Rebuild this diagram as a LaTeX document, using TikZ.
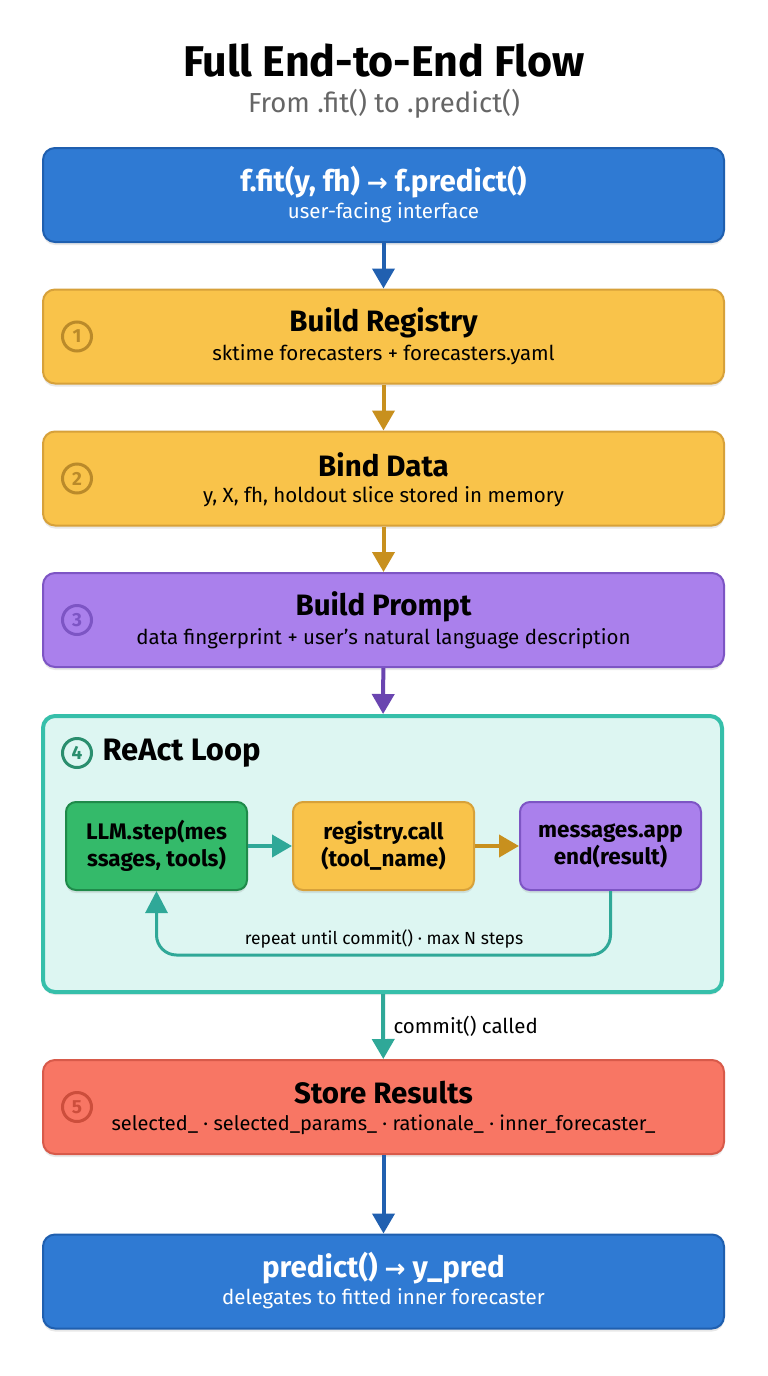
\documentclass[tikz,border=0pt]{standalone}
\usepackage{fontspec}
\setmainfont{Fira Sans}
\newfontfamily\symf{DejaVu Sans}
\usetikzlibrary{arrows.meta,shadows,positioning}
\definecolor{bluef}{HTML}{2F7AD3}
\definecolor{blued}{HTML}{1F5FAF}
\definecolor{bluea}{HTML}{2160B0}
\definecolor{yelf}{HTML}{F9C34A}
\definecolor{yeld}{HTML}{D7A13A}
\definecolor{yela}{HTML}{C8901E}
\definecolor{yelc}{HTML}{BA8A2A}
\definecolor{purf}{HTML}{AA80EC}
\definecolor{purd}{HTML}{7D55C4}
\definecolor{pura}{HTML}{6A45B0}
\definecolor{tealf}{HTML}{DDF6F2}
\definecolor{teald}{HTML}{36BFAA}
\definecolor{teala}{HTML}{2FA898}
\definecolor{grnf}{HTML}{34BA6A}
\definecolor{grnd}{HTML}{1F8A4A}
\definecolor{grnc}{HTML}{2A8E6E}
\definecolor{redf}{HTML}{F87664}
\definecolor{redd}{HTML}{D85A4A}
\definecolor{redc}{HTML}{CC4E3C}
\definecolor{subg}{HTML}{666666}
\tikzset{
  x=1pt,y=-1pt,
  mainbox/.style={draw, line width=2pt, rounded corners=12pt, minimum width=681pt, minimum height=94pt,
    drop shadow={shadow xshift=0pt, shadow yshift=-3pt, opacity=0.18}},
  innerbox/.style={draw, line width=2pt, rounded corners=10pt, minimum width=181pt, minimum height=88pt,
    align=center, font=\fontsize{22.5}{27}\selectfont\bfseries,
    drop shadow={shadow xshift=0pt, shadow yshift=-3pt, opacity=0.18}},
  btitle/.style={font=\fontsize{29.5}{33}\selectfont\bfseries},
  bsub/.style={font=\fontsize{20.5}{24}\selectfont},
  numc/.style={circle, draw, line width=3pt, minimum size=29pt, inner sep=0pt, font=\fontsize{19}{19}\selectfont\bfseries},
  flow/.style={line width=4pt, -{Triangle[width=22pt,length=20pt]}},
}
\begin{document}
\begin{tikzpicture}
\useasboundingbox (0,0) rectangle (768,1376);
\fill[white] (0,0) rectangle (768,1376);

\node[font=\fontsize{43}{48}\selectfont\bfseries] (title) at (384,61) {Full End-to-End Flow};
\node[font=\fontsize{27.5}{31}\selectfont, text=subg] (subtitle) at (384,104) {From .fit() to .predict()};

% box 1
\node[mainbox, fill=bluef, draw=blued] (b1) at (383.5,195) {};
\node[btitle, text=white] (b1t) at (383.5,182) {f.fit(y, fh) {\symf\fontsize{25}{29}\selectfont →} f.predict()};
\node[bsub, text=white] (b1s) at (383.5,213) {user-facing interface};

% box 2
\node[mainbox, fill=yelf, draw=yeld] (b2) at (383.5,336.5) {};
\node[btitle] (b2t) at (383.5,323) {Build Registry};
\node[bsub] (b2s) at (383.5,355) {sktime forecasters + forecasters.yaml};
\node[numc, draw=yelc, text=yelc] (n1) at (77,336.5) {1};

% box 3
\node[mainbox, fill=yelf, draw=yeld] (b3) at (383.5,478.5) {};
\node[btitle] (b3t) at (383.5,465) {Bind Data};
\node[bsub] (b3s) at (383.5,497) {y, X, fh, holdout slice stored in memory};
\node[numc, draw=yelc, text=yelc] (n2) at (77,478.5) {2};

% box 4
\node[mainbox, fill=purf, draw=purd] (b4) at (383.5,620) {};
\node[btitle] (b4t) at (383.5,607) {Build Prompt};
\node[bsub] (b4s) at (383.5,639) {data fingerprint + user's natural language description};
\node[numc, draw=purd, text=purd] (n3) at (77,620) {3};

% container
\node[draw=teald, fill=tealf, line width=4pt, rounded corners=12pt, minimum width=679pt, minimum height=276pt,
  drop shadow={shadow xshift=0pt, shadow yshift=-3pt, opacity=0.15}] (loop) at (382.5,854) {};
\node[numc, draw=grnc, text=grnc] (n4) at (77,753) {4};
\node[anchor=west, font=\fontsize{31}{35}\selectfont\bfseries] (looptitle) at (99,753) {ReAct Loop};

\node[innerbox, fill=grnf, draw=grnd] (llm) at (156.5,846) {LLM.step(mes\\ssages, tools)};
\node[innerbox, fill=yelf, draw=yeld] (reg) at (383.5,846) {registry.call\\(tool\_name)};
\node[innerbox, fill=purf, draw=purd] (msg) at (610.5,846) {messages.app\\end(result)};

\draw[flow, teala] (llm) -- (reg);
\draw[flow, yela] (reg) -- (msg);
\coordinate (lr) at (610.5,955);
\coordinate (ll) at (156.5,955);
\draw[teala, line width=3pt, -{Triangle[width=22pt,length=22pt]}, rounded corners=20pt] (msg.south) -- (lr) -- (ll) -- (llm.south);
\node[font=\fontsize{17.5}{21}\selectfont] (looplbl) at (384,939) {repeat until commit() · max N steps};

% box 5
\node[mainbox, fill=redf, draw=redd] (b5) at (383.5,1107) {};
\node[btitle] (b5t) at (383.5,1093) {Store Results};
\node[bsub, font=\fontsize{20}{24}\selectfont] (b5s) at (383.5,1125) {selected\_ · selected\_params\_ · rationale\_ · inner\_forecaster\_};
\node[numc, draw=redc, text=redc] (n5) at (77,1107) {5};

% box 6
\node[mainbox, fill=bluef, draw=blued] (b6) at (383.5,1281.5) {};
\node[btitle, text=white] (b6t) at (383.5,1268) {predict() {\symf\fontsize{25}{29}\selectfont →} y\_pred};
\node[bsub, text=white] (b6s) at (383.5,1299) {delegates to fitted inner forecaster};

% connectors
\draw[flow, bluea] (b1) -- (b2);
\draw[flow, yela] (b2) -- (b3);
\draw[flow, yela] (b3) -- (b4);
\draw[flow, pura] (b4) -- (loop);
\draw[flow, teala] (loop) -- node[right, xshift=5pt, font=\fontsize{20.5}{24}\selectfont, text=black] (clbl) {commit() called} (b5);
\draw[flow, bluea] (b5) -- (b6);
\end{tikzpicture}
\end{document}
